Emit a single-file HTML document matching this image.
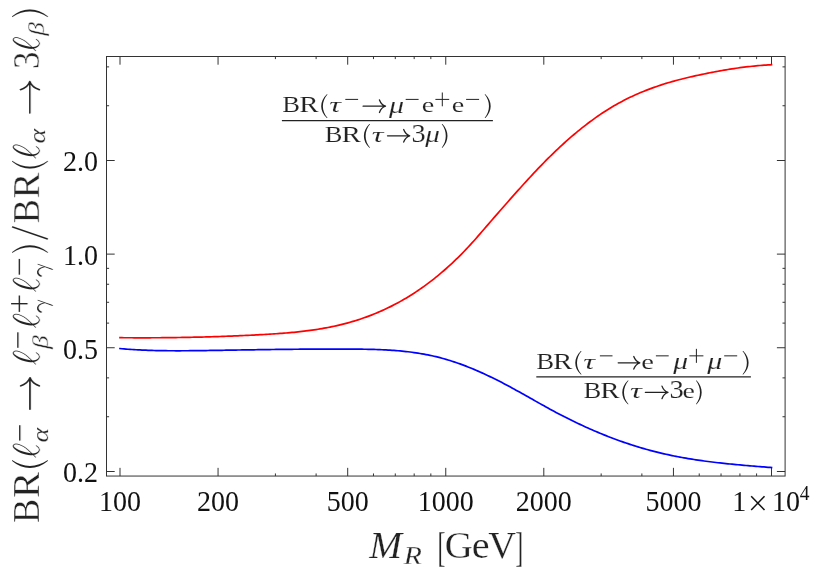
<!DOCTYPE html>
<html><head><meta charset="utf-8"><title>BR ratios vs M_R</title>
<style>
html,body{margin:0;padding:0;background:#fff;}
svg{display:block;font-family:"Liberation Serif",serif;}
</style></head><body>
<svg width="830" height="581" viewBox="0 0 830 581">
<rect width="830" height="581" fill="#fff"/>
<rect x="106.5" y="56.5" width="678.6" height="419.55" fill="none" stroke="#333" stroke-width="1"/>
<line x1="120.00" y1="476.05" x2="120.00" y2="467.85" stroke="#333" stroke-width="1" stroke-linecap="butt"/>
<line x1="120.00" y1="56.50" x2="120.00" y2="64.70" stroke="#333" stroke-width="1" stroke-linecap="butt"/>
<line x1="218.06" y1="476.05" x2="218.06" y2="467.85" stroke="#333" stroke-width="1" stroke-linecap="butt"/>
<line x1="218.06" y1="56.50" x2="218.06" y2="64.70" stroke="#333" stroke-width="1" stroke-linecap="butt"/>
<line x1="347.69" y1="476.05" x2="347.69" y2="467.85" stroke="#333" stroke-width="1" stroke-linecap="butt"/>
<line x1="347.69" y1="56.50" x2="347.69" y2="64.70" stroke="#333" stroke-width="1" stroke-linecap="butt"/>
<line x1="445.75" y1="476.05" x2="445.75" y2="467.85" stroke="#333" stroke-width="1" stroke-linecap="butt"/>
<line x1="445.75" y1="56.50" x2="445.75" y2="64.70" stroke="#333" stroke-width="1" stroke-linecap="butt"/>
<line x1="543.81" y1="476.05" x2="543.81" y2="467.85" stroke="#333" stroke-width="1" stroke-linecap="butt"/>
<line x1="543.81" y1="56.50" x2="543.81" y2="64.70" stroke="#333" stroke-width="1" stroke-linecap="butt"/>
<line x1="673.44" y1="476.05" x2="673.44" y2="467.85" stroke="#333" stroke-width="1" stroke-linecap="butt"/>
<line x1="673.44" y1="56.50" x2="673.44" y2="64.70" stroke="#333" stroke-width="1" stroke-linecap="butt"/>
<line x1="771.50" y1="476.05" x2="771.50" y2="467.85" stroke="#333" stroke-width="1" stroke-linecap="butt"/>
<line x1="771.50" y1="56.50" x2="771.50" y2="64.70" stroke="#333" stroke-width="1" stroke-linecap="butt"/>
<line x1="275.42" y1="476.05" x2="275.42" y2="473.45" stroke="#333" stroke-width="1" stroke-linecap="butt"/>
<line x1="275.42" y1="56.50" x2="275.42" y2="59.10" stroke="#333" stroke-width="1" stroke-linecap="butt"/>
<line x1="316.12" y1="476.05" x2="316.12" y2="473.45" stroke="#333" stroke-width="1" stroke-linecap="butt"/>
<line x1="316.12" y1="56.50" x2="316.12" y2="59.10" stroke="#333" stroke-width="1" stroke-linecap="butt"/>
<line x1="373.48" y1="476.05" x2="373.48" y2="473.45" stroke="#333" stroke-width="1" stroke-linecap="butt"/>
<line x1="373.48" y1="56.50" x2="373.48" y2="59.10" stroke="#333" stroke-width="1" stroke-linecap="butt"/>
<line x1="395.29" y1="476.05" x2="395.29" y2="473.45" stroke="#333" stroke-width="1" stroke-linecap="butt"/>
<line x1="395.29" y1="56.50" x2="395.29" y2="59.10" stroke="#333" stroke-width="1" stroke-linecap="butt"/>
<line x1="414.18" y1="476.05" x2="414.18" y2="473.45" stroke="#333" stroke-width="1" stroke-linecap="butt"/>
<line x1="414.18" y1="56.50" x2="414.18" y2="59.10" stroke="#333" stroke-width="1" stroke-linecap="butt"/>
<line x1="430.84" y1="476.05" x2="430.84" y2="473.45" stroke="#333" stroke-width="1" stroke-linecap="butt"/>
<line x1="430.84" y1="56.50" x2="430.84" y2="59.10" stroke="#333" stroke-width="1" stroke-linecap="butt"/>
<line x1="601.17" y1="476.05" x2="601.17" y2="473.45" stroke="#333" stroke-width="1" stroke-linecap="butt"/>
<line x1="601.17" y1="56.50" x2="601.17" y2="59.10" stroke="#333" stroke-width="1" stroke-linecap="butt"/>
<line x1="641.87" y1="476.05" x2="641.87" y2="473.45" stroke="#333" stroke-width="1" stroke-linecap="butt"/>
<line x1="641.87" y1="56.50" x2="641.87" y2="59.10" stroke="#333" stroke-width="1" stroke-linecap="butt"/>
<line x1="699.23" y1="476.05" x2="699.23" y2="473.45" stroke="#333" stroke-width="1" stroke-linecap="butt"/>
<line x1="699.23" y1="56.50" x2="699.23" y2="59.10" stroke="#333" stroke-width="1" stroke-linecap="butt"/>
<line x1="721.04" y1="476.05" x2="721.04" y2="473.45" stroke="#333" stroke-width="1" stroke-linecap="butt"/>
<line x1="721.04" y1="56.50" x2="721.04" y2="59.10" stroke="#333" stroke-width="1" stroke-linecap="butt"/>
<line x1="739.93" y1="476.05" x2="739.93" y2="473.45" stroke="#333" stroke-width="1" stroke-linecap="butt"/>
<line x1="739.93" y1="56.50" x2="739.93" y2="59.10" stroke="#333" stroke-width="1" stroke-linecap="butt"/>
<line x1="756.59" y1="476.05" x2="756.59" y2="473.45" stroke="#333" stroke-width="1" stroke-linecap="butt"/>
<line x1="756.59" y1="56.50" x2="756.59" y2="59.10" stroke="#333" stroke-width="1" stroke-linecap="butt"/>
<line x1="106.50" y1="471.50" x2="114.70" y2="471.50" stroke="#333" stroke-width="1" stroke-linecap="butt"/>
<line x1="785.10" y1="471.50" x2="776.90" y2="471.50" stroke="#333" stroke-width="1" stroke-linecap="butt"/>
<line x1="106.50" y1="347.74" x2="114.70" y2="347.74" stroke="#333" stroke-width="1" stroke-linecap="butt"/>
<line x1="785.10" y1="347.74" x2="776.90" y2="347.74" stroke="#333" stroke-width="1" stroke-linecap="butt"/>
<line x1="106.50" y1="254.12" x2="114.70" y2="254.12" stroke="#333" stroke-width="1" stroke-linecap="butt"/>
<line x1="785.10" y1="254.12" x2="776.90" y2="254.12" stroke="#333" stroke-width="1" stroke-linecap="butt"/>
<line x1="106.50" y1="160.50" x2="114.70" y2="160.50" stroke="#333" stroke-width="1" stroke-linecap="butt"/>
<line x1="785.10" y1="160.50" x2="776.90" y2="160.50" stroke="#333" stroke-width="1" stroke-linecap="butt"/>
<line x1="106.50" y1="416.74" x2="109.10" y2="416.74" stroke="#333" stroke-width="1" stroke-linecap="butt"/>
<line x1="785.10" y1="416.74" x2="782.50" y2="416.74" stroke="#333" stroke-width="1" stroke-linecap="butt"/>
<line x1="106.50" y1="377.88" x2="109.10" y2="377.88" stroke="#333" stroke-width="1" stroke-linecap="butt"/>
<line x1="785.10" y1="377.88" x2="782.50" y2="377.88" stroke="#333" stroke-width="1" stroke-linecap="butt"/>
<line x1="106.50" y1="323.11" x2="109.10" y2="323.11" stroke="#333" stroke-width="1" stroke-linecap="butt"/>
<line x1="785.10" y1="323.11" x2="782.50" y2="323.11" stroke="#333" stroke-width="1" stroke-linecap="butt"/>
<line x1="106.50" y1="302.29" x2="109.10" y2="302.29" stroke="#333" stroke-width="1" stroke-linecap="butt"/>
<line x1="785.10" y1="302.29" x2="782.50" y2="302.29" stroke="#333" stroke-width="1" stroke-linecap="butt"/>
<line x1="106.50" y1="284.26" x2="109.10" y2="284.26" stroke="#333" stroke-width="1" stroke-linecap="butt"/>
<line x1="785.10" y1="284.26" x2="782.50" y2="284.26" stroke="#333" stroke-width="1" stroke-linecap="butt"/>
<line x1="106.50" y1="268.35" x2="109.10" y2="268.35" stroke="#333" stroke-width="1" stroke-linecap="butt"/>
<line x1="785.10" y1="268.35" x2="782.50" y2="268.35" stroke="#333" stroke-width="1" stroke-linecap="butt"/>
<line x1="106.50" y1="105.74" x2="109.10" y2="105.74" stroke="#333" stroke-width="1" stroke-linecap="butt"/>
<line x1="785.10" y1="105.74" x2="782.50" y2="105.74" stroke="#333" stroke-width="1" stroke-linecap="butt"/>
<line x1="106.50" y1="66.88" x2="109.10" y2="66.88" stroke="#333" stroke-width="1" stroke-linecap="butt"/>
<line x1="785.10" y1="66.88" x2="782.50" y2="66.88" stroke="#333" stroke-width="1" stroke-linecap="butt"/>
<path d="M120.0,337.70 L122.0,337.71 L124.0,337.73 L126.0,337.74 L128.0,337.75 L130.0,337.76 L132.0,337.77 L134.0,337.78 L136.0,337.79 L138.0,337.79 L140.0,337.79 L142.0,337.79 L144.0,337.79 L146.0,337.79 L148.0,337.79 L150.0,337.78 L152.0,337.77 L154.0,337.76 L156.0,337.75 L158.0,337.74 L160.0,337.73 L162.0,337.71 L164.0,337.69 L166.0,337.67 L168.0,337.65 L170.0,337.63 L172.0,337.61 L174.0,337.58 L176.0,337.55 L178.0,337.52 L180.0,337.49 L182.0,337.46 L184.0,337.42 L186.0,337.39 L188.0,337.35 L190.0,337.31 L192.0,337.27 L194.0,337.22 L196.0,337.18 L198.0,337.13 L200.0,337.08 L202.0,337.03 L204.0,336.98 L206.0,336.92 L208.0,336.86 L210.0,336.81 L212.0,336.74 L214.0,336.68 L216.0,336.62 L218.0,336.55 L220.0,336.48 L222.0,336.41 L224.0,336.34 L226.0,336.27 L228.0,336.19 L230.0,336.12 L232.0,336.04 L234.0,335.95 L236.0,335.87 L238.0,335.79 L240.0,335.70 L242.0,335.61 L244.0,335.52 L246.0,335.42 L248.0,335.33 L250.0,335.23 L252.0,335.13 L254.0,335.03 L256.0,334.93 L258.0,334.82 L260.0,334.71 L262.0,334.60 L264.0,334.49 L266.0,334.38 L268.0,334.26 L270.0,334.14 L272.0,334.01 L274.0,333.88 L276.0,333.75 L278.0,333.61 L280.0,333.47 L282.0,333.32 L284.0,333.16 L286.0,333.00 L288.0,332.83 L290.0,332.65 L292.0,332.47 L294.0,332.28 L296.0,332.08 L298.0,331.87 L300.0,331.65 L302.0,331.42 L304.0,331.19 L306.0,330.94 L308.0,330.68 L310.0,330.42 L312.0,330.14 L314.0,329.85 L316.0,329.55 L318.0,329.23 L320.0,328.91 L322.0,328.57 L324.0,328.21 L326.0,327.85 L328.0,327.47 L330.0,327.07 L332.0,326.66 L334.0,326.24 L336.0,325.80 L338.0,325.34 L340.0,324.87 L342.0,324.38 L344.0,323.88 L346.0,323.35 L348.0,322.81 L350.0,322.26 L352.0,321.68 L354.0,321.09 L356.0,320.47 L358.0,319.84 L360.0,319.19 L362.0,318.51 L364.0,317.82 L366.0,317.11 L368.0,316.38 L370.0,315.62 L372.0,314.85 L374.0,314.05 L376.0,313.23 L378.0,312.39 L380.0,311.53 L382.0,310.64 L384.0,309.73 L386.0,308.80 L388.0,307.85 L390.0,306.87 L392.0,305.87 L394.0,304.84 L396.0,303.79 L398.0,302.72 L400.0,301.62 L402.0,300.49 L404.0,299.34 L406.0,298.16 L408.0,296.96 L410.0,295.73 L412.0,294.47 L414.0,293.19 L416.0,291.87 L418.0,290.54 L420.0,289.17 L422.0,287.77 L424.0,286.35 L426.0,284.90 L428.0,283.42 L430.0,281.91 L432.0,280.37 L434.0,278.80 L436.0,277.20 L438.0,275.57 L440.0,273.91 L442.0,272.21 L444.0,270.49 L446.0,268.74 L448.0,266.95 L450.0,265.13 L452.0,263.28 L454.0,261.40 L456.0,259.48 L458.0,257.53 L460.0,255.55 L462.0,253.53 L464.0,251.48 L466.0,249.39 L468.0,247.27 L470.0,245.12 L472.0,242.93 L474.0,240.70 L476.0,238.44 L478.0,236.15 L480.0,233.84 L482.0,231.53 L484.0,229.21 L486.0,226.89 L488.0,224.58 L490.0,222.27 L492.0,219.97 L494.0,217.67 L496.0,215.37 L498.0,213.08 L500.0,210.80 L502.0,208.52 L504.0,206.24 L506.0,203.97 L508.0,201.70 L510.0,199.43 L512.0,197.17 L514.0,194.92 L516.0,192.67 L518.0,190.44 L520.0,188.21 L522.0,185.99 L524.0,183.78 L526.0,181.58 L528.0,179.40 L530.0,177.22 L532.0,175.07 L534.0,172.93 L536.0,170.80 L538.0,168.70 L540.0,166.61 L542.0,164.54 L544.0,162.50 L546.0,160.47 L548.0,158.47 L550.0,156.49 L552.0,154.53 L554.0,152.59 L556.0,150.67 L558.0,148.78 L560.0,146.92 L562.0,145.07 L564.0,143.25 L566.0,141.45 L568.0,139.68 L570.0,137.93 L572.0,136.20 L574.0,134.50 L576.0,132.82 L578.0,131.17 L580.0,129.54 L582.0,127.94 L584.0,126.36 L586.0,124.81 L588.0,123.28 L590.0,121.78 L592.0,120.31 L594.0,118.86 L596.0,117.43 L598.0,116.04 L600.0,114.67 L602.0,113.32 L604.0,112.01 L606.0,110.72 L608.0,109.46 L610.0,108.22 L612.0,107.02 L614.0,105.84 L616.0,104.69 L618.0,103.56 L620.0,102.47 L622.0,101.39 L624.0,100.35 L626.0,99.33 L628.0,98.33 L630.0,97.36 L632.0,96.41 L634.0,95.48 L636.0,94.58 L638.0,93.69 L640.0,92.83 L642.0,91.99 L644.0,91.18 L646.0,90.38 L648.0,89.60 L650.0,88.84 L652.0,88.10 L654.0,87.38 L656.0,86.68 L658.0,85.99 L660.0,85.32 L662.0,84.67 L664.0,84.03 L666.0,83.41 L668.0,82.81 L670.0,82.22 L672.0,81.64 L674.0,81.08 L676.0,80.53 L678.0,79.99 L680.0,79.47 L682.0,78.95 L684.0,78.45 L686.0,77.96 L688.0,77.48 L690.0,77.01 L692.0,76.55 L694.0,76.10 L696.0,75.66 L698.0,75.23 L700.0,74.80 L702.0,74.38 L704.0,73.97 L706.0,73.56 L708.0,73.16 L710.0,72.76 L712.0,72.38 L714.0,71.99 L716.0,71.62 L718.0,71.25 L720.0,70.89 L722.0,70.53 L724.0,70.18 L726.0,69.84 L728.0,69.51 L730.0,69.19 L732.0,68.88 L734.0,68.57 L736.0,68.27 L738.0,67.99 L740.0,67.71 L742.0,67.44 L744.0,67.18 L746.0,66.93 L748.0,66.69 L750.0,66.47 L752.0,66.25 L754.0,66.04 L756.0,65.85 L758.0,65.67 L760.0,65.50 L762.0,65.34 L764.0,65.19 L766.0,65.06 L768.0,64.94 L770.0,64.83 L771.5,64.76" fill="none" stroke="#ff0000" stroke-width="1.7" stroke-linejoin="round" stroke-linecap="square"/>
<path d="M120.0,348.59 L122.0,348.76 L124.0,348.93 L126.0,349.08 L128.0,349.23 L130.0,349.37 L132.0,349.50 L134.0,349.63 L136.0,349.74 L138.0,349.85 L140.0,349.95 L142.0,350.05 L144.0,350.14 L146.0,350.22 L148.0,350.29 L150.0,350.36 L152.0,350.43 L154.0,350.48 L156.0,350.53 L158.0,350.58 L160.0,350.62 L162.0,350.66 L164.0,350.69 L166.0,350.71 L168.0,350.74 L170.0,350.75 L172.0,350.76 L174.0,350.77 L176.0,350.78 L178.0,350.78 L180.0,350.78 L182.0,350.77 L184.0,350.77 L186.0,350.75 L188.0,350.74 L190.0,350.72 L192.0,350.71 L194.0,350.68 L196.0,350.66 L198.0,350.64 L200.0,350.61 L202.0,350.58 L204.0,350.56 L206.0,350.53 L208.0,350.50 L210.0,350.47 L212.0,350.43 L214.0,350.40 L216.0,350.37 L218.0,350.34 L220.0,350.31 L222.0,350.28 L224.0,350.24 L226.0,350.21 L228.0,350.18 L230.0,350.15 L232.0,350.12 L234.0,350.08 L236.0,350.05 L238.0,350.02 L240.0,349.99 L242.0,349.96 L244.0,349.93 L246.0,349.90 L248.0,349.87 L250.0,349.84 L252.0,349.81 L254.0,349.78 L256.0,349.75 L258.0,349.72 L260.0,349.69 L262.0,349.66 L264.0,349.63 L266.0,349.60 L268.0,349.58 L270.0,349.55 L272.0,349.52 L274.0,349.50 L276.0,349.47 L278.0,349.45 L280.0,349.42 L282.0,349.40 L284.0,349.38 L286.0,349.36 L288.0,349.33 L290.0,349.31 L292.0,349.29 L294.0,349.27 L296.0,349.26 L298.0,349.24 L300.0,349.22 L302.0,349.20 L304.0,349.19 L306.0,349.17 L308.0,349.16 L310.0,349.15 L312.0,349.14 L314.0,349.12 L316.0,349.11 L318.0,349.11 L320.0,349.10 L322.0,349.09 L324.0,349.08 L326.0,349.08 L328.0,349.08 L330.0,349.07 L332.0,349.07 L334.0,349.07 L336.0,349.07 L338.0,349.07 L340.0,349.08 L342.0,349.08 L344.0,349.09 L346.0,349.09 L348.0,349.10 L350.0,349.11 L352.0,349.12 L354.0,349.14 L356.0,349.15 L358.0,349.17 L360.0,349.19 L362.0,349.21 L364.0,349.24 L366.0,349.27 L368.0,349.31 L370.0,349.36 L372.0,349.40 L374.0,349.46 L376.0,349.52 L378.0,349.59 L380.0,349.67 L382.0,349.75 L384.0,349.84 L386.0,349.95 L388.0,350.06 L390.0,350.18 L392.0,350.31 L394.0,350.45 L396.0,350.60 L398.0,350.77 L400.0,350.95 L402.0,351.14 L404.0,351.34 L406.0,351.55 L408.0,351.78 L410.0,352.03 L412.0,352.28 L414.0,352.56 L416.0,352.85 L418.0,353.15 L420.0,353.47 L422.0,353.81 L424.0,354.17 L426.0,354.54 L428.0,354.93 L430.0,355.34 L432.0,355.77 L434.0,356.22 L436.0,356.69 L438.0,357.18 L440.0,357.69 L442.0,358.22 L444.0,358.78 L446.0,359.35 L448.0,359.95 L450.0,360.56 L452.0,361.19 L454.0,361.85 L456.0,362.52 L458.0,363.21 L460.0,363.92 L462.0,364.65 L464.0,365.40 L466.0,366.16 L468.0,366.95 L470.0,367.75 L472.0,368.56 L474.0,369.40 L476.0,370.24 L478.0,371.11 L480.0,371.99 L482.0,372.88 L484.0,373.80 L486.0,374.72 L488.0,375.66 L490.0,376.61 L492.0,377.58 L494.0,378.56 L496.0,379.56 L498.0,380.56 L500.0,381.58 L502.0,382.61 L504.0,383.66 L506.0,384.71 L508.0,385.78 L510.0,386.86 L512.0,387.94 L514.0,389.04 L516.0,390.14 L518.0,391.25 L520.0,392.36 L522.0,393.48 L524.0,394.60 L526.0,395.73 L528.0,396.86 L530.0,397.98 L532.0,399.11 L534.0,400.24 L536.0,401.37 L538.0,402.50 L540.0,403.62 L542.0,404.74 L544.0,405.85 L546.0,406.96 L548.0,408.06 L550.0,409.15 L552.0,410.23 L554.0,411.31 L556.0,412.38 L558.0,413.43 L560.0,414.48 L562.0,415.51 L564.0,416.54 L566.0,417.56 L568.0,418.57 L570.0,419.56 L572.0,420.55 L574.0,421.52 L576.0,422.49 L578.0,423.45 L580.0,424.39 L582.0,425.32 L584.0,426.25 L586.0,427.16 L588.0,428.06 L590.0,428.95 L592.0,429.83 L594.0,430.70 L596.0,431.55 L598.0,432.40 L600.0,433.23 L602.0,434.05 L604.0,434.86 L606.0,435.66 L608.0,436.45 L610.0,437.22 L612.0,437.99 L614.0,438.74 L616.0,439.48 L618.0,440.21 L620.0,440.93 L622.0,441.63 L624.0,442.33 L626.0,443.01 L628.0,443.68 L630.0,444.34 L632.0,444.99 L634.0,445.63 L636.0,446.26 L638.0,446.87 L640.0,447.47 L642.0,448.07 L644.0,448.64 L646.0,449.21 L648.0,449.77 L650.0,450.31 L652.0,450.85 L654.0,451.37 L656.0,451.88 L658.0,452.38 L660.0,452.87 L662.0,453.34 L664.0,453.81 L666.0,454.26 L668.0,454.70 L670.0,455.13 L672.0,455.55 L674.0,455.96 L676.0,456.36 L678.0,456.75 L680.0,457.13 L682.0,457.49 L684.0,457.85 L686.0,458.20 L688.0,458.54 L690.0,458.88 L692.0,459.20 L694.0,459.52 L696.0,459.82 L698.0,460.12 L700.0,460.41 L702.0,460.70 L704.0,460.97 L706.0,461.24 L708.0,461.50 L710.0,461.76 L712.0,462.01 L714.0,462.25 L716.0,462.49 L718.0,462.72 L720.0,462.95 L722.0,463.17 L724.0,463.38 L726.0,463.59 L728.0,463.80 L730.0,464.00 L732.0,464.20 L734.0,464.39 L736.0,464.58 L738.0,464.77 L740.0,464.95 L742.0,465.13 L744.0,465.31 L746.0,465.48 L748.0,465.65 L750.0,465.82 L752.0,465.99 L754.0,466.16 L756.0,466.32 L758.0,466.48 L760.0,466.64 L762.0,466.81 L764.0,466.97 L766.0,467.12 L768.0,467.28 L770.0,467.44 L771.5,467.56" fill="none" stroke="#0000ff" stroke-width="1.7" stroke-linejoin="round" stroke-linecap="square"/>
<g style="filter:grayscale(1)">
<text transform="translate(120.00,510.90) scale(1,1.05)" font-size="28" text-anchor="middle" fill="#111">100</text>
<text transform="translate(218.06,510.90) scale(1,1.05)" font-size="28" text-anchor="middle" fill="#111">200</text>
<text transform="translate(347.69,510.90) scale(1,1.05)" font-size="28" text-anchor="middle" fill="#111">500</text>
<text transform="translate(445.75,510.90) scale(1,1.05)" font-size="28" text-anchor="middle" fill="#111">1000</text>
<text transform="translate(543.81,510.90) scale(1,1.05)" font-size="28" text-anchor="middle" fill="#111">2000</text>
<text transform="translate(673.44,510.90) scale(1,1.05)" font-size="28" text-anchor="middle" fill="#111">5000</text>
<text transform="translate(739.20,510.90) scale(1,1.05)" font-size="28" text-anchor="middle" fill="#111">1</text>
<text transform="translate(786.00,510.90) scale(1,1.05)" font-size="28" text-anchor="middle" fill="#111">10</text>
<text transform="translate(804.60,499.60) scale(1,1.05)" font-size="19.5" text-anchor="middle" fill="#111">4</text>
<line x1="751.20" y1="496.20" x2="764.50" y2="510.00" stroke="#111" stroke-width="1.5" stroke-linecap="butt"/>
<line x1="751.20" y1="510.00" x2="764.50" y2="496.20" stroke="#111" stroke-width="1.5" stroke-linecap="butt"/>
<text transform="translate(97.90,171.40) scale(1,1.05)" font-size="28" text-anchor="end" fill="#111">2.0</text>
<text transform="translate(97.90,265.02) scale(1,1.05)" font-size="28" text-anchor="end" fill="#111">1.0</text>
<text transform="translate(97.90,358.64) scale(1,1.05)" font-size="28" text-anchor="end" fill="#111">0.5</text>
<text transform="translate(97.90,482.40) scale(1,1.05)" font-size="28" text-anchor="end" fill="#111">0.2</text>
<text transform="translate(369.36,558.00) scale(1.0509,1.0000)" font-size="37.5" font-style="italic" fill="#222" stroke="#fff" stroke-width="0.25">M</text>
<text transform="translate(403.76,563.60) scale(1.2117,1.0000)" font-size="24.5" font-style="italic" fill="#222" stroke="#fff" stroke-width="0.25">R</text>
<text transform="translate(437.53,560.59) scale(0.7935,1.4217)" font-size="30" fill="#222" stroke="#fff" stroke-width="0.18">[</text>
<text transform="translate(444.81,558.30) scale(1.0340,1.0000)" font-size="37.5" fill="#222" stroke="#fff" stroke-width="0.25">G</text>
<text transform="translate(471.73,558.30) scale(1.0735,1.0000)" font-size="37.5" fill="#222" stroke="#fff" stroke-width="0.25">e</text>
<text transform="translate(488.37,558.00) scale(1.0252,1.0000)" font-size="37.5" fill="#222" stroke="#fff" stroke-width="0.25">V</text>
<text transform="translate(515.14,560.59) scale(0.7935,1.4217)" font-size="30" fill="#222" stroke="#fff" stroke-width="0.18">]</text>
<text transform="translate(282.23,112.18) scale(0.8880,0.7881)" font-size="30" fill="#222" stroke="#fff" stroke-width="0.17">B</text>
<text transform="translate(299.16,112.25) scale(0.9685,0.7916)" font-size="30" fill="#222" stroke="#fff" stroke-width="0.15">R</text>
<path d="M326.84,94.30C319.32,101.44 319.32,110.96 326.84,118.10L327.60,118.10C321.33,110.96 321.33,101.44 327.60,94.30Z" fill="#222"/>
<text transform="translate(329.19,112.14) scale(1.0832,0.7147)" font-size="30" font-style="italic" fill="#222" stroke="#fff" stroke-width="0.14">τ</text>
<line x1="345.30" y1="99.40" x2="358.10" y2="99.40" stroke="#222" stroke-width="1.0" stroke-linecap="butt"/>
<path d="M363.10,106.20H384.72M379.47,99.94Q381.28,104.82 385.50,106.20Q381.28,107.58 379.47,112.46" fill="none" stroke="#222" stroke-width="1.30" stroke-linecap="round" stroke-linejoin="round"/>
<text transform="translate(389.03,112.60) scale(1.0006,0.7481)" font-size="30" font-style="italic" fill="#222" stroke="#fff" stroke-width="0.15">μ</text>
<line x1="405.70" y1="99.40" x2="418.60" y2="99.40" stroke="#222" stroke-width="1.0" stroke-linecap="butt"/>
<text transform="translate(421.80,112.44) scale(0.9366,0.7243)" font-size="30" fill="#222" stroke="#fff" stroke-width="0.16">e</text>
<line x1="435.40" y1="99.40" x2="449.20" y2="99.40" stroke="#222" stroke-width="1.0" stroke-linecap="butt"/>
<line x1="442.30" y1="92.50" x2="442.30" y2="106.30" stroke="#222" stroke-width="1.0" stroke-linecap="butt"/>
<text transform="translate(451.70,112.44) scale(0.9366,0.7243)" font-size="30" fill="#222" stroke="#fff" stroke-width="0.16">e</text>
<line x1="466.10" y1="99.40" x2="479.10" y2="99.40" stroke="#222" stroke-width="1.0" stroke-linecap="butt"/>
<path d="M485.36,94.30C492.48,101.44 492.48,110.96 485.36,118.10L484.60,118.10C490.47,110.96 490.47,101.44 484.60,94.30Z" fill="#222"/>
<line x1="281.90" y1="120.50" x2="492.90" y2="120.50" stroke="#222" stroke-width="1.25" stroke-linecap="butt"/>
<text transform="translate(324.84,141.78) scale(0.8823,0.7982)" font-size="30" fill="#222" stroke="#fff" stroke-width="0.17">B</text>
<text transform="translate(341.56,141.85) scale(0.9737,0.8018)" font-size="30" fill="#222" stroke="#fff" stroke-width="0.15">R</text>
<path d="M369.34,123.90C362.09,131.07 362.09,140.63 369.34,147.80L370.10,147.80C364.10,140.63 364.10,131.07 370.10,123.90Z" fill="#222"/>
<text transform="translate(371.79,141.74) scale(1.0832,0.7147)" font-size="30" font-style="italic" fill="#222" stroke="#fff" stroke-width="0.14">τ</text>
<path d="M387.50,135.80H408.92M403.67,129.54Q405.48,134.42 409.70,135.80Q405.48,137.18 403.67,142.06" fill="none" stroke="#222" stroke-width="1.30" stroke-linecap="round" stroke-linejoin="round"/>
<text transform="translate(411.44,142.01) scale(0.9441,0.8161)" font-size="30" fill="#222" stroke="#fff" stroke-width="0.16">3</text>
<text transform="translate(425.33,142.20) scale(0.9722,0.7481)" font-size="30" font-style="italic" fill="#222" stroke="#fff" stroke-width="0.15">μ</text>
<path d="M442.47,123.90C449.18,131.07 449.18,140.63 442.47,147.80L441.70,147.80C447.17,140.63 447.17,131.07 441.70,123.90Z" fill="#222"/>
<text transform="translate(536.13,368.58) scale(0.8936,0.7830)" font-size="30" fill="#222" stroke="#fff" stroke-width="0.17">B</text>
<text transform="translate(553.06,368.65) scale(0.9685,0.7865)" font-size="30" fill="#222" stroke="#fff" stroke-width="0.15">R</text>
<path d="M580.84,350.90C573.45,357.98 573.45,367.42 580.84,374.50L581.60,374.50C575.47,367.42 575.47,357.98 581.60,350.90Z" fill="#222"/>
<text transform="translate(583.28,368.54) scale(1.0923,0.7076)" font-size="30" font-style="italic" fill="#222" stroke="#fff" stroke-width="0.14">τ</text>
<line x1="599.90" y1="355.85" x2="612.50" y2="355.85" stroke="#222" stroke-width="1.0" stroke-linecap="butt"/>
<path d="M618.20,362.80H639.02M633.77,356.54Q635.58,361.42 639.80,362.80Q635.58,364.18 633.77,369.06" fill="none" stroke="#222" stroke-width="1.30" stroke-linecap="round" stroke-linejoin="round"/>
<text transform="translate(641.28,368.84) scale(0.9547,0.7173)" font-size="30" fill="#222" stroke="#fff" stroke-width="0.16">e</text>
<line x1="655.90" y1="355.85" x2="668.70" y2="355.85" stroke="#222" stroke-width="1.0" stroke-linecap="butt"/>
<text transform="translate(673.33,369.03) scale(0.9864,0.7431)" font-size="30" font-style="italic" fill="#222" stroke="#fff" stroke-width="0.15">μ</text>
<line x1="689.40" y1="355.85" x2="703.40" y2="355.85" stroke="#222" stroke-width="1.0" stroke-linecap="butt"/>
<line x1="696.40" y1="348.85" x2="696.40" y2="362.85" stroke="#222" stroke-width="1.0" stroke-linecap="butt"/>
<text transform="translate(707.23,369.03) scale(1.0006,0.7431)" font-size="30" font-style="italic" fill="#222" stroke="#fff" stroke-width="0.15">μ</text>
<line x1="724.20" y1="355.85" x2="737.20" y2="355.85" stroke="#222" stroke-width="1.0" stroke-linecap="butt"/>
<path d="M743.26,350.90C750.38,357.98 750.38,367.42 743.26,374.50L742.50,374.50C748.37,367.42 748.37,357.98 742.50,350.90Z" fill="#222"/>
<line x1="536.30" y1="376.90" x2="750.90" y2="376.90" stroke="#222" stroke-width="1.25" stroke-linecap="butt"/>
<text transform="translate(583.53,398.23) scale(0.8880,0.7906)" font-size="30" fill="#222" stroke="#fff" stroke-width="0.17">B</text>
<text transform="translate(600.26,398.30) scale(0.9685,0.7942)" font-size="30" fill="#222" stroke="#fff" stroke-width="0.15">R</text>
<path d="M627.84,380.40C620.45,387.57 620.45,397.13 627.84,404.30L628.60,404.30C622.47,397.13 622.47,387.57 628.60,380.40Z" fill="#222"/>
<text transform="translate(630.08,398.19) scale(1.0923,0.7111)" font-size="30" font-style="italic" fill="#222" stroke="#fff" stroke-width="0.14">τ</text>
<path d="M645.40,392.40H667.22M661.97,386.14Q663.78,391.02 668.00,392.40Q663.78,393.78 661.97,398.66" fill="none" stroke="#222" stroke-width="1.30" stroke-linecap="round" stroke-linejoin="round"/>
<text transform="translate(669.53,398.46) scale(0.9522,0.8087)" font-size="30" fill="#222" stroke="#fff" stroke-width="0.16">3</text>
<text transform="translate(682.61,398.49) scale(0.9276,0.7208)" font-size="30" fill="#222" stroke="#fff" stroke-width="0.16">e</text>
<path d="M696.66,380.40C703.38,387.57 703.38,397.13 696.66,404.30L695.90,404.30C701.37,397.13 701.37,387.57 695.90,380.40Z" fill="#222"/>
<g transform="translate(39.1,522) rotate(-90)">
<text transform="translate(-1.05,0.00) scale(0.9702,1.0000)" font-size="37.6" fill="#222" stroke="#fff" stroke-width="0.4">B</text>
<text transform="translate(24.28,0.00) scale(1.0317,1.0000)" font-size="37.6" fill="#222" stroke="#fff" stroke-width="0.4">R</text>
<path d="M61.00,-27.00C51.80,-16.29 51.80,-2.01 61.00,8.70L61.90,8.70C54.17,-2.01 54.17,-16.29 61.90,-27.00Z" fill="#222"/>
<defs><polygon id="ell" points="-0.02,-3.57 0.38,-3.92 0.79,-4.27 1.18,-4.64 1.56,-5.01 1.95,-5.38 2.32,-5.76 2.69,-6.15 3.06,-6.54 3.42,-6.93 3.79,-7.33 4.15,-7.73 4.51,-8.13 4.87,-8.54 5.23,-8.94 5.59,-9.34 5.96,-9.75 6.33,-10.15 6.70,-10.55 7.06,-10.94 7.43,-11.34 7.79,-11.74 8.15,-12.14 8.50,-12.55 8.84,-12.96 9.17,-13.37 9.49,-13.79 9.80,-14.22 10.10,-14.66 10.38,-15.11 10.65,-15.57 10.91,-16.03 11.16,-16.51 11.41,-16.98 11.64,-17.47 11.86,-17.95 12.08,-18.45 12.29,-18.94 12.49,-19.44 12.67,-19.94 12.83,-20.44 12.97,-20.95 13.08,-21.46 13.17,-21.97 13.23,-22.50 13.25,-23.02 13.22,-23.52 13.13,-24.00 12.95,-24.43 12.68,-24.83 12.32,-25.15 11.94,-25.34 11.59,-25.37 11.23,-25.26 10.85,-25.02 10.50,-24.71 10.18,-24.36 9.88,-23.96 9.58,-23.53 9.28,-23.09 8.99,-22.65 8.72,-22.20 8.45,-21.75 8.19,-21.30 7.95,-20.84 7.71,-20.38 7.49,-19.91 7.28,-19.44 7.09,-18.96 6.90,-18.47 6.73,-17.98 6.56,-17.49 6.40,-16.99 6.25,-16.49 6.09,-15.99 5.94,-15.49 5.79,-14.98 5.65,-14.48 5.52,-13.96 5.39,-13.45 5.26,-12.94 5.14,-12.42 5.02,-11.90 4.91,-11.37 4.79,-10.85 4.68,-10.33 4.57,-9.82 4.47,-9.31 4.38,-8.80 4.31,-8.30 4.25,-7.80 4.21,-7.30 4.20,-6.80 4.21,-6.30 4.24,-5.80 4.29,-5.31 4.37,-4.81 4.48,-4.31 4.60,-3.82 4.76,-3.34 4.93,-2.87 5.13,-2.41 5.36,-1.97 5.63,-1.56 5.95,-1.17 6.31,-0.81 6.70,-0.51 7.12,-0.28 7.54,-0.14 7.95,-0.11 8.39,-0.19 8.85,-0.36 9.31,-0.62 9.76,-0.94 10.20,-1.32 10.61,-1.73 10.98,-2.15 11.31,-2.56 11.58,-2.95 11.80,-3.28 12.40,-2.92 12.16,-2.55 11.87,-2.14 11.53,-1.70 11.14,-1.24 10.70,-0.79 10.23,-0.37 9.73,0.02 9.19,0.34 8.63,0.58 8.03,0.71 7.40,0.71 6.79,0.55 6.22,0.29 5.70,-0.05 5.22,-0.43 4.79,-0.86 4.40,-1.31 4.05,-1.78 3.74,-2.28 3.47,-2.80 3.23,-3.33 3.01,-3.87 2.83,-4.42 2.67,-4.99 2.54,-5.56 2.45,-6.14 2.39,-6.72 2.35,-7.31 2.34,-7.89 2.35,-8.46 2.39,-9.04 2.44,-9.61 2.51,-10.17 2.60,-10.73 2.70,-11.28 2.81,-11.82 2.92,-12.36 3.04,-12.90 3.17,-13.43 3.30,-13.97 3.43,-14.50 3.58,-15.04 3.72,-15.57 3.88,-16.10 4.04,-16.63 4.22,-17.16 4.41,-17.69 4.61,-18.21 4.83,-18.73 5.06,-19.24 5.31,-19.75 5.57,-20.26 5.84,-20.76 6.13,-21.25 6.43,-21.73 6.74,-22.20 7.07,-22.66 7.41,-23.11 7.76,-23.54 8.11,-23.97 8.48,-24.39 8.85,-24.80 9.25,-25.22 9.71,-25.62 10.25,-25.97 10.87,-26.24 11.57,-26.33 12.26,-26.18 12.84,-25.83 13.31,-25.34 13.66,-24.79 13.88,-24.21 13.99,-23.61 14.01,-23.01 13.98,-22.43 13.91,-21.86 13.80,-21.31 13.67,-20.76 13.51,-20.23 13.34,-19.70 13.14,-19.19 12.94,-18.67 12.72,-18.17 12.50,-17.67 12.27,-17.17 12.03,-16.67 11.79,-16.18 11.53,-15.70 11.26,-15.22 10.98,-14.75 10.68,-14.28 10.38,-13.83 10.06,-13.38 9.72,-12.94 9.38,-12.51 9.03,-12.09 8.67,-11.68 8.31,-11.27 7.95,-10.87 7.58,-10.47 7.21,-10.07 6.84,-9.67 6.48,-9.27 6.11,-8.87 5.75,-8.47 5.39,-8.07 5.03,-7.67 4.67,-7.26 4.31,-6.86 3.94,-6.46 3.57,-6.06 3.20,-5.67 2.82,-5.28 2.44,-4.89 2.05,-4.50 1.66,-4.13 1.26,-3.75 0.84,-3.39 0.42,-3.03" fill="#222"/><g id="gam" fill="#222"><polygon points="-0.29,2.62 -0.26,2.18 -0.17,1.74 -0.05,1.30 0.12,0.87 0.34,0.45 0.59,0.05 0.88,-0.33 1.21,-0.69 1.57,-1.01 1.95,-1.31 2.36,-1.56 2.80,-1.78 3.27,-1.94 3.75,-2.05 4.25,-2.09 4.75,-2.05 5.23,-1.95 5.69,-1.80 6.12,-1.60 6.53,-1.36 6.92,-1.10 7.27,-0.81 7.59,-0.49 7.88,-0.15 8.14,0.20 8.37,0.57 8.58,0.95 8.78,1.34 8.95,1.73 9.11,2.14 9.25,2.54 9.38,2.95 9.49,3.35 9.60,3.75 9.70,4.14 9.79,4.53 9.88,4.90 9.96,5.27 10.04,5.61 9.36,5.79 9.26,5.44 9.16,5.09 9.05,4.72 8.94,4.35 8.82,3.98 8.69,3.60 8.55,3.22 8.41,2.85 8.25,2.49 8.08,2.13 7.89,1.79 7.69,1.47 7.48,1.16 7.25,0.87 7.01,0.61 6.75,0.37 6.48,0.16 6.19,-0.03 5.89,-0.18 5.57,-0.30 5.24,-0.38 4.91,-0.43 4.60,-0.45 4.29,-0.45 4.00,-0.42 3.72,-0.36 3.43,-0.26 3.15,-0.12 2.87,0.04 2.60,0.24 2.34,0.47 2.09,0.72 1.87,0.99 1.65,1.27 1.45,1.57 1.28,1.87 1.12,2.17 0.99,2.47 0.89,2.78"/><polygon points="12.73,-1.28 12.22,0.09 11.73,1.46 11.24,2.84 10.76,4.22 10.27,5.60 9.80,6.98 9.34,8.37 8.87,9.76 8.38,11.13 7.86,12.50 7.32,13.86 6.48,13.54 6.99,12.17 7.49,10.80 8.01,9.44 8.54,8.08 9.07,6.72 9.57,5.35 10.07,3.97 10.57,2.60 11.06,1.22 11.57,-0.15 12.07,-1.52"/></g></defs>
<use href="#ell" x="64.40" y="-0.00"/>
<text transform="translate(79.47,8.86) scale(0.9315,0.7677)" font-size="30" font-style="italic" fill="#222" stroke="#fff" stroke-width="0.32">α</text>
<line x1="81.40" y1="-19.30" x2="96.80" y2="-19.30" stroke="#222" stroke-width="1.35" stroke-linecap="butt"/>
<path d="M112.80,-9.10H143.34M136.10,-18.50Q138.56,-11.17 144.30,-9.10Q138.56,-7.03 136.10,0.30" fill="none" stroke="#222" stroke-width="1.60" stroke-linecap="round" stroke-linejoin="round"/>
<use href="#ell" x="157.40" y="-0.00"/>
<text transform="translate(172.95,8.69) scale(0.9232,0.7852)" font-size="30" font-style="italic" fill="#222" stroke="#fff" stroke-width="0.49">β</text>
<line x1="174.20" y1="-21.20" x2="189.70" y2="-21.20" stroke="#222" stroke-width="1.35" stroke-linecap="butt"/>
<use href="#ell" x="194.20" y="-0.00"/>
<use href="#gam" x="209.50" y="-0.00"/>
<line x1="210.10" y1="-19.70" x2="226.50" y2="-19.70" stroke="#222" stroke-width="1.35" stroke-linecap="butt"/>
<line x1="218.30" y1="-27.90" x2="218.30" y2="-11.50" stroke="#222" stroke-width="1.35" stroke-linecap="butt"/>
<use href="#ell" x="230.30" y="-0.00"/>
<use href="#gam" x="245.50" y="-0.00"/>
<line x1="247.30" y1="-19.70" x2="263.10" y2="-19.70" stroke="#222" stroke-width="1.35" stroke-linecap="butt"/>
<path d="M269.90,-27.00C279.10,-16.29 279.10,-2.01 269.90,8.70L269.00,8.70C276.73,-2.01 276.73,-16.29 269.00,-27.00Z" fill="#222"/>
<text transform="translate(298.76,0.00) scale(0.9612,1.0000)" font-size="37.6" fill="#222" stroke="#fff" stroke-width="0.4">B</text>
<text transform="translate(323.38,0.00) scale(1.0359,1.0000)" font-size="37.6" fill="#222" stroke="#fff" stroke-width="0.4">R</text>
<path d="M360.40,-27.00C351.07,-16.29 351.07,-2.01 360.40,8.70L361.30,8.70C353.43,-2.01 353.43,-16.29 361.30,-27.00Z" fill="#222"/>
<use href="#ell" x="363.50" y="-0.00"/>
<text transform="translate(378.47,6.06) scale(0.9315,0.7747)" font-size="30" font-style="italic" fill="#222" stroke="#fff" stroke-width="0.32">α</text>
<path d="M409.00,-9.20H439.54M432.30,-18.60Q434.76,-11.27 440.50,-9.20Q434.76,-7.13 432.30,0.20" fill="none" stroke="#222" stroke-width="1.60" stroke-linecap="round" stroke-linejoin="round"/>
<text transform="translate(452.93,0.00) scale(0.9271,1.0000)" font-size="37.6" fill="#222" stroke="#fff" stroke-width="0.4">3</text>
<use href="#ell" x="470.80" y="-0.00"/>
<text transform="translate(486.34,4.79) scale(0.9167,0.7997)" font-size="30" font-style="italic" fill="#222" stroke="#fff" stroke-width="0.49">β</text>
<path d="M505.70,-27.00C514.90,-16.29 514.90,-2.01 505.70,8.70L504.80,8.70C512.53,-2.01 512.53,-16.29 504.80,-27.00Z" fill="#222"/>
<line x1="282.90" y1="8.70" x2="295.20" y2="-27.00" stroke="#222" stroke-width="1.5" stroke-linecap="butt"/>
</g>
</g>
</svg>
</body></html>
